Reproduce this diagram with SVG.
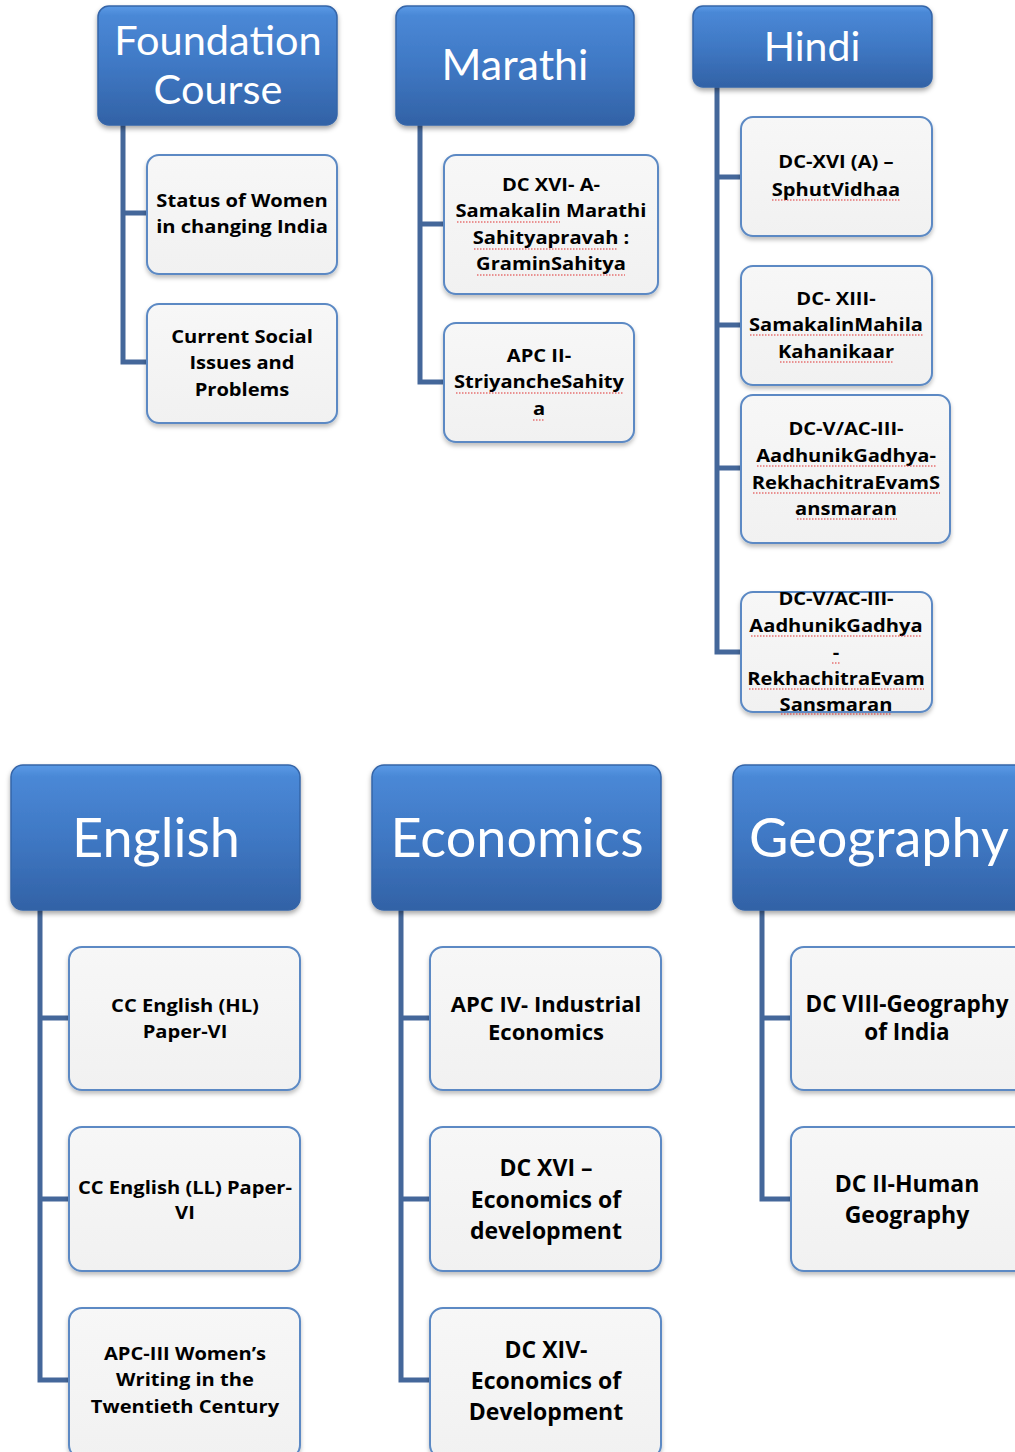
<svg xmlns="http://www.w3.org/2000/svg" width="1015" height="1452" viewBox="0 0 1015 1452">
<defs>
<linearGradient id="hg" x1="0" y1="0" x2="0" y2="1">
<stop offset="0" stop-color="#5A9AE6"/>
<stop offset="0.08" stop-color="#4A88D6"/>
<stop offset="0.5" stop-color="#3F78C4"/>
<stop offset="1" stop-color="#3262A6"/>
</linearGradient>
<linearGradient id="cg" x1="0" y1="0" x2="0" y2="1">
<stop offset="0" stop-color="#F7F7F7"/>
<stop offset="1" stop-color="#F1F1F1"/>
</linearGradient>
<filter id="sh" x="-10%" y="-10%" width="120%" height="130%">
<feDropShadow dx="0" dy="3" stdDeviation="2.5" flood-color="#000" flood-opacity="0.35"/>
</filter>
<filter id="sh2" x="-10%" y="-10%" width="120%" height="130%">
<feDropShadow dx="0" dy="3" stdDeviation="2" flood-color="#000" flood-opacity="0.25"/>
</filter>
</defs>
<style>
.hd{fill:url(#hg);stroke:#3565A8;stroke-width:1.5;filter:url(#sh)}
.ch{fill:url(#cg);stroke:#5B89C4;stroke-width:2;filter:url(#sh2)}
.ht{font-family:Lato,"Open Sans","Liberation Sans",sans-serif;fill:#fff;text-anchor:middle}
.ct,.cl{font-family:"Open Sans",Lato,"Liberation Sans",sans-serif;font-weight:bold;fill:#000;text-anchor:middle;transform-box:fill-box;transform-origin:center}
.ct{font-size:18.3px;transform:scaleX(1.1)}
.sp{stroke:#E03030;stroke-width:1.2;stroke-dasharray:1.5 1.5;fill:none}
.cn{fill:none;stroke:#44679A;stroke-width:5}
</style>

<g id="connectors">
<path class="cn" d="M123,125 V213 H147 M123,125 V362 H147"/>
<path class="cn" d="M420,125 V224 H444 M420,125 V382 H444"/>
<path class="cn" d="M717,87 V177 H741 M717,87 V325 H741 M717,87 V468 H741 M717,87 V652 H741"/>
<path class="cn" d="M40,910 V1018 H69 M40,910 V1199 H69 M40,910 V1380 H69"/>
<path class="cn" d="M401,910 V1018 H430 M401,910 V1199 H430 M401,910 V1380 H430"/>
<path class="cn" d="M762,910 V1018 H791 M762,910 V1199 H791"/>
</g>

<g id="foundation">
<rect class="hd" x="98" y="6" width="239" height="119" rx="11"/>
<text class="ht" x="218" y="55" font-size="41.5">Foundation</text>
<text class="ht" x="218" y="104" font-size="41.5">Course</text>
</g>
<g id="f1">
<rect class="ch" x="147" y="155" width="190" height="119" rx="12"/>
<text class="ct" x="242" y="207">Status of Women</text>
<text class="ct" x="242" y="233">in changing India</text>
</g>
<g id="f2">
<rect class="ch" x="147" y="304" width="190" height="119" rx="12"/>
<text class="ct" x="242" y="343">Current Social</text>
<text class="ct" x="242" y="369">Issues and</text>
<text class="ct" x="242" y="396">Problems</text>
</g>

<g id="marathi">
<rect class="hd" x="396" y="6" width="238" height="119" rx="11"/>
<text class="ht" x="515" y="80" font-size="43">Marathi</text>
</g>
<g id="m1">
<rect class="ch" x="444" y="155" width="214" height="139" rx="12"/>
<text class="ct" x="551" y="191">DC XVI- A-</text>
<text class="ct" x="551" y="217">Samakalin Marathi</text>
<text class="ct" x="551" y="244">Sahityapravah :</text>
<text class="ct" x="551" y="270">GraminSahitya</text>
<path class="sp" d="M457,222 H560 M474,249 H617 M477,275 H625"/>
</g>
<g id="m2">
<rect class="ch" x="444" y="323" width="190" height="119" rx="12"/>
<text class="ct" x="539" y="362">APC II-</text>
<text class="ct" x="539" y="388">StriyancheSahity</text>
<text class="ct" x="539" y="415">a</text>
<path class="sp" d="M456,393 H623 M533,420 H545"/>
</g>

<g id="hindi">
<rect class="hd" x="693" y="6" width="239" height="81" rx="10"/>
<text class="ht" x="812" y="61" font-size="41">Hindi</text>
</g>
<g id="h1">
<rect class="ch" x="741" y="117" width="191" height="119" rx="12"/>
<text class="ct" x="836" y="168">DC-XVI (A) –</text>
<text class="ct" x="836" y="196">SphutVidhaa</text>
<path class="sp" d="M772,200 H900"/>
</g>
<g id="h2">
<rect class="ch" x="741" y="266" width="191" height="119" rx="12"/>
<text class="ct" x="836" y="305">DC- XIII-</text>
<text class="ct" x="836" y="331">SamakalinMahila</text>
<text class="ct" x="836" y="358">Kahanikaar</text>
<path class="sp" d="M750,335 H923 M780,362 H893"/>
</g>
<g id="h3">
<rect class="ch" x="741" y="395" width="209" height="148" rx="12"/>
<text class="ct" x="846" y="435">DC-V/AC-III-</text>
<text class="ct" x="846" y="462">AadhunikGadhya-</text>
<text class="ct" x="846" y="489">RekhachitraEvamS</text>
<text class="ct" x="846" y="515">ansmaran</text>
<path class="sp" d="M757,466 H936 M753,493 H940 M797,519 H897"/>
</g>
<g id="h4">
<rect class="ch" x="741" y="592" width="191" height="120" rx="12"/>
<text class="ct" x="836" y="605">DC-V/AC-III-</text>
<text class="ct" x="836" y="632">AadhunikGadhya</text>
<text class="ct" x="836" y="659">-</text>
<text class="ct" x="836" y="685">RekhachitraEvam</text>
<text class="ct" x="836" y="711">Sansmaran</text>
<path class="sp" d="M751,636 H922 M832,663 H840 M749,689 H924 M781,714 H892"/>
</g>

<g id="english">
<rect class="hd" x="11" y="765" width="289" height="145" rx="12"/>
<text class="ht" x="156" y="857" font-size="54">English</text>
</g>
<g id="e1">
<rect class="ch" x="69" y="947" width="231" height="143" rx="13"/>
<text class="ct" x="185" y="1012">CC English (HL)</text>
<text class="ct" x="185" y="1038">Paper-VI</text>
</g>
<g id="e2">
<rect class="ch" x="69" y="1127" width="231" height="144" rx="13"/>
<text class="ct" x="185" y="1194">CC English (LL) Paper-</text>
<text class="ct" x="185" y="1219">VI</text>
</g>
<g id="e3">
<rect class="ch" x="69" y="1308" width="231" height="150" rx="13"/>
<text class="ct" x="185" y="1360">APC-III Women’s</text>
<text class="ct" x="185" y="1386">Writing in the</text>
<text class="ct" x="185" y="1413">Twentieth Century</text>
</g>

<g id="economics">
<rect class="hd" x="372" y="765" width="289" height="145" rx="12"/>
<text class="ht" x="517" y="857" font-size="54">Economics</text>
</g>
<g id="ec1">
<rect class="ch" x="430" y="947" width="231" height="143" rx="13"/>
<text class="cl" x="546" y="1012" font-size="22">APC IV- Industrial</text>
<text class="cl" x="546" y="1040" font-size="22">Economics</text>
</g>
<g id="ec2">
<rect class="ch" x="430" y="1127" width="231" height="144" rx="13"/>
<text class="cl" x="546" y="1176" font-size="23">DC XVI –</text>
<text class="cl" x="546" y="1208" font-size="23">Economics of</text>
<text class="cl" x="546" y="1239" font-size="23">development</text>
</g>
<g id="ec3">
<rect class="ch" x="430" y="1308" width="231" height="150" rx="13"/>
<text class="cl" x="546" y="1358" font-size="23">DC XIV-</text>
<text class="cl" x="546" y="1389" font-size="23">Economics of</text>
<text class="cl" x="546" y="1420" font-size="23">Development</text>
</g>

<g id="geography">
<rect class="hd" x="733" y="765" width="300" height="145" rx="12"/>
<text class="ht" x="879" y="857" font-size="54">Geography</text>
</g>
<g id="g1">
<rect class="ch" x="791" y="947" width="240" height="143" rx="13"/>
<text class="cl" x="907" y="1012" font-size="22.5">DC VIII-Geography</text>
<text class="cl" x="907" y="1040" font-size="22.5">of India</text>
</g>
<g id="g2">
<rect class="ch" x="791" y="1127" width="240" height="144" rx="13"/>
<text class="cl" x="907" y="1192" font-size="23">DC II-Human</text>
<text class="cl" x="907" y="1223" font-size="23">Geography</text>
</g>
</svg>
